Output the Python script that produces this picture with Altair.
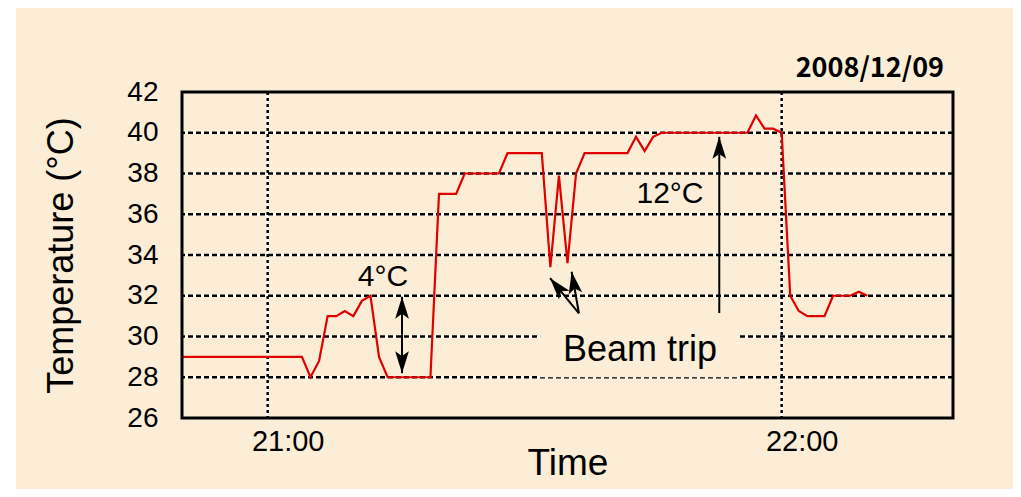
import altair as alt
import pandas as pd

# ---------------- data ----------------
DATE = "2008-12-09"
START = "20:50"
# temperature sampled once per minute from 20:50 to 22:10
temps = [
    29, 29, 29, 29, 29, 29, 29, 29, 29, 29,          # 20:50-20:59
    29, 29, 29, 29, 29, 28, 28.8, 31, 31, 31.25,      # 21:00-21:09
    31, 31.75, 32, 29, 28, 28, 28, 28, 28, 28,        # 21:10-21:19
    37, 37, 37, 38, 38, 38, 38, 38, 39, 39,           # 21:20-21:29
    39, 39, 39, 33.4, 37.9, 33.6, 38, 39, 39, 39,     # 21:30-21:39
    39, 39, 39, 39.8, 39.1, 39.8, 40, 40, 40, 40,     # 21:40-21:49
    40, 40, 40, 40, 40, 40, 40, 40.85, 40.2, 40.2,    # 21:50-21:59
    40, 32, 31.25, 31, 31, 31, 32, 32, 32, 32.2,      # 22:00-22:09
    32,                                               # 22:10
]
y_ticks = [26, 28, 30, 32, 34, 36, 38, 40, 42]
y_grid = [28, 30, 32, 34, 36, 38, 40]
x_grid = ["21:00", "22:00"]
x_domain = ["20:50", "22:20"]

# annotations (time, temperature)
label_text = ["4°C", "12°C", "Beam trip"]
label_time = ["21:13:28", "21:46:58", "21:43:28"]
label_temp = [32.5, 36.55, 28.8]
label_size = [30, 30, 36]

arrow_tail_time = ["21:15:41", "21:15:41", "21:52:43", "21:36:20", "21:36:20"]
arrow_tail_temp = [30.1, 30.1, 31.15, 31.14, 31.14]
arrow_tip_time = ["21:15:41", "21:15:41", "21:52:43", "21:32:58", "21:35:29"]
arrow_tip_temp = [31.95, 28.2, 39.8, 32.86, 33.18]
arrow_angle = [0, 180, 0, 320, 350]

box_time = ["21:31:48", "21:55:08"]
box_temp = [30.9, 28.0]

date_label = "2008/12/09"

# ---------------- style ----------------
CREAM = "#FCEED6"
RED = "#E00000"
FONT = "Liberation Sans"
W, H = 771, 326


def ts(hm):
    return f"{DATE}T{hm}" if hm.count(":") == 2 else f"{DATE}T{hm}:00"


times = pd.date_range(f"{DATE} {START}", periods=len(temps), freq="min")
df = pd.DataFrame({"time": times.strftime("%Y-%m-%dT%H:%M:%S"), "temp": temps})

x_scale = alt.Scale(domain=[ts(x_domain[0]), ts(x_domain[1])])
y_scale = alt.Scale(domain=[26, 42], nice=False, zero=False)

x_enc = alt.X(
    "time:T",
    scale=x_scale,
    axis=alt.Axis(
        values=[ts(v) for v in x_grid],
        format="%H:%M",
        grid=False, ticks=False, domain=False,
        labelFont=FONT, labelFontSize=29, labelColor="black", labelPadding=9,
        labelOffset=20,
        title="Time", titleFont=FONT, titleFontSize=37, titleFontWeight="normal",
        titleColor="black", titleY=56, titleBaseline="alphabetic",
        zindex=1,
    ),
)
y_enc = alt.Y(
    "temp:Q",
    scale=y_scale,
    axis=alt.Axis(
        values=y_ticks,
        grid=False, ticks=False, domain=False,
        labelFont=FONT, labelFontSize=28, labelColor="black", labelPadding=24,
        title="Temperature (°C)", titleFont=FONT, titleFontSize=36,
        titleFontWeight="normal", titleColor="black",
        titleX=-102, titleY=163, titleAngle=270, titleAlign="center",
        titleBaseline="bottom",
        zindex=1,
    ),
)

one = pd.DataFrame({"a": [0]})
bg = alt.Chart(one).mark_rect(color=CREAM).encode(
    x=alt.value(-166), x2=alt.value(W + 70), y=alt.value(-84), y2=alt.value(H + 80)
)

hgrid_df = pd.DataFrame({"temp": y_grid})
vgrid_df = pd.DataFrame({"time": [ts(v) for v in x_grid]})

hgrid_white = alt.Chart(hgrid_df).mark_rule(color="white", strokeWidth=2.5).encode(
    y=alt.Y("temp:Q", scale=y_scale)
)
hgrid = alt.Chart(hgrid_df).mark_rule(color="black", strokeWidth=2.5, strokeDash=[5, 3]).encode(
    y=alt.Y("temp:Q", scale=y_scale)
)
vgrid_white = alt.Chart(vgrid_df).mark_rule(color="white", strokeWidth=2.5).encode(
    x=alt.X("time:T", scale=x_scale)
)
vgrid = alt.Chart(vgrid_df).mark_rule(color="black", strokeWidth=2.5, strokeDash=[3, 3]).encode(
    x=alt.X("time:T", scale=x_scale)
)

box_df = pd.DataFrame({"t1": [ts(box_time[0])], "t2": [ts(box_time[1])],
                       "y1": [box_temp[0]], "y2": [box_temp[1]]})
box = alt.Chart(box_df).mark_rect(color=CREAM).encode(
    x=alt.X("t1:T", scale=x_scale), x2="t2:T",
    y=alt.Y("y1:Q", scale=y_scale), y2="y2:Q",
)

line = alt.Chart(df).mark_line(color=RED, strokeWidth=2.2).encode(x=x_enc, y=y_enc)

arr_df = pd.DataFrame({
    "t0": [ts(v) for v in arrow_tail_time], "y0": arrow_tail_temp,
    "t1": [ts(v) for v in arrow_tip_time], "y1": arrow_tip_temp,
    "ang": arrow_angle,
})
arrow_lines = alt.Chart(arr_df).mark_rule(color="black", strokeWidth=2).encode(
    x=alt.X("t0:T", scale=x_scale), y=alt.Y("y0:Q", scale=y_scale),
    x2="t1:T", y2="y1:Q",
)
ARROW = "M0,0L1.25,4L0,3.1L-1.25,4Z"
arrow_heads = alt.Chart(arr_df).mark_point(
    shape=ARROW, filled=True, color="black", opacity=1, size=121, strokeWidth=0
).encode(
    x=alt.X("t1:T", scale=x_scale), y=alt.Y("y1:Q", scale=y_scale),
    angle=alt.Angle("ang:Q", scale=None),
)

lab_df = pd.DataFrame({"text": label_text, "time": [ts(v) for v in label_time],
                       "temp": label_temp, "size": label_size})
labels = alt.Chart(lab_df).mark_text(
    font=FONT, color="black", align="center", baseline="alphabetic"
).encode(
    x=alt.X("time:T", scale=x_scale), y=alt.Y("temp:Q", scale=y_scale),
    text="text:N", size=alt.Size("size:Q", scale=None),
)

date_txt = alt.Chart(pd.DataFrame({"text": [date_label]})).mark_text(
    font="Noto Sans CJK JP", fontSize=27, fontWeight="bold", color="black",
    align="right", baseline="alphabetic",
).encode(x=alt.value(762), y=alt.value(-15), text="text:N")

frame = alt.Chart(one).mark_rect(fillOpacity=0, stroke="black", strokeWidth=3).encode(
    x=alt.value(0), x2=alt.value(W), y=alt.value(0), y2=alt.value(H)
)

chart = alt.layer(
    bg, hgrid_white, vgrid_white, hgrid, vgrid, box, line,
    arrow_lines, arrow_heads, labels, date_txt, frame,
).properties(
    width=W, height=H,
    autosize=alt.AutoSizeParams(type="none"),
    padding={"left": 174, "top": 84, "right": 60, "bottom": 71},
    background="white",
).configure_view(strokeWidth=0)

chart.save("out.html", embed_options={"renderer": "svg", "actions": False})
